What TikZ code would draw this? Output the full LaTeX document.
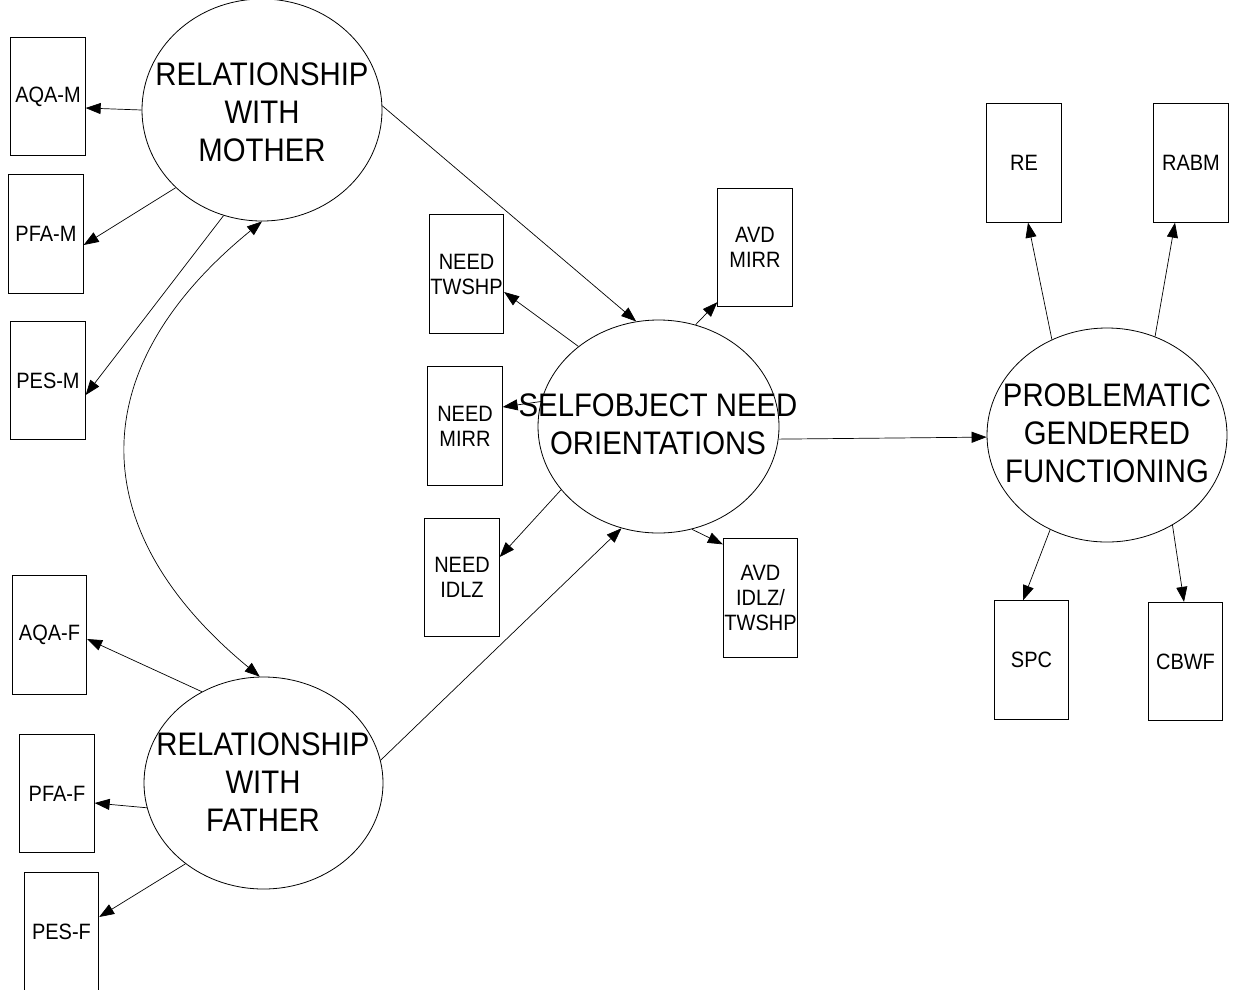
\documentclass[tikz,border=0pt]{standalone}
\usepackage{fontspec}
\setmainfont{Liberation Sans}
\newfontfamily\narrowsans[FakeStretch=0.9]{Liberation Sans}
\usetikzlibrary{shapes.geometric,arrows.meta}
\begin{document}
\begin{tikzpicture}[x=1pt,y=-1pt,
 latent/.style={ellipse,draw,line width=0.8pt,inner sep=0pt},
 ltext/.style={align=center,font=\narrowsans\fontsize{32.6}{38}\selectfont,inner sep=0pt},
 obs/.style={rectangle,draw,line width=0.8pt,minimum width=74.5pt,minimum height=118.5pt,inner sep=0pt,align=center,font=\narrowsans\fontsize{22.2}{25}\selectfont},
 arr/.style={-{Triangle[length=15pt,width=11pt]},line width=0.7pt},
 darr/.style={{Triangle[length=15pt,width=11pt]}-{Triangle[length=15pt,width=11pt]},line width=0.7pt},
]
\path[use as bounding box] (0,0) rectangle (1236,989);

% latent variables
\node[latent,minimum width=240pt,minimum height=222pt] (mom) at (262,110) {};
\node[ltext] (momt) at (262,112) {RELATIONSHIP\\WITH\\MOTHER};
\node[latent,minimum width=239pt,minimum height=212pt] (fat) at (263.5,783) {};
\node[ltext] (fatt) at (263,782) {RELATIONSHIP\\WITH\\FATHER};
\node[latent,minimum width=241pt,minimum height=213pt] (so) at (658.5,426.5) {};
\node[ltext] (sot) at (658,424) {SELFOBJECT NEED\\ORIENTATIONS};
\node[latent,minimum width=240pt,minimum height=214pt] (pgf) at (1107,435) {};
\node[ltext] (pgft) at (1107,433) {PROBLEMATIC\\GENDERED\\FUNCTIONING};

% observed variables
\node[obs] (aqam) at (48,96.5) {AQA-M};
\node[obs] (pfam) at (46,234) {PFA-M};
\node[obs] (pesm) at (48,380.5) {PES-M};
\node[obs] (aqaf) at (49.5,635) {AQA-F};
\node[obs] (pfaf) at (57,793.5) {PFA-F};
\node[obs] (pesf) at (61.5,932) {PES-F};
\node[obs] (ntw) at (466.5,274) {NEED\\TWSHP};
\node[obs] (nmi) at (465,426) {NEED\\MIRR};
\node[obs] (nid) at (462,577.5) {NEED\\IDLZ};
\node[obs] (avm) at (755,247.5) {AVD\\MIRR};
\node[obs] (avi) at (760.5,598) {AVD\\IDLZ/\\TWSHP};
\node[obs] (re) at (1024,163) {RE};
\node[obs] (rabm) at (1191,163) {RABM};
\node[obs] (spc) at (1031.5,660) {SPC};
\node[obs] (cbwf) at (1185.5,661.5) {CBWF};

% mother
\draw[arr] (mom.180) -- ([yshift=-11.5pt]aqam.east);
\draw[arr] (mom.222.6) -- ([yshift=-11pt]pfam.east);
\draw[arr] (mom.250.4) -- ([yshift=-14.5pt]pesm.east);
\draw[arr] (mom.2.4) -- (so.102);
% father
\draw[arr] (fat.124.9) -- ([yshift=-4pt]aqaf.east);
\draw[arr] (fat.192.1) -- ([yshift=-9.5pt]pfaf.east);
\draw[arr] (fat.226.6) -- ([yshift=15pt]pesf.east);
\draw[arr] (fat.11) -- (so.250);
% covariance
\draw[darr] (mom.270) .. controls (82,368) and (82,530) .. (fat.92);
% selfobject
\draw[arr] (so.135) -- ([yshift=-18pt]ntw.east);
\draw[arr] (so.168) -- ([yshift=19pt]nmi.east);
\draw[arr] (so.213.8) -- ([yshift=20.5pt]nid.east);
\draw[arr] (so.70.4) -- ([yshift=5pt]avm.south west);
\draw[arr] (so.288.8) -- ([yshift=-6pt]avi.north west);
\draw[arr] (so.354.5) -- (pgf.181.4);
% problematic
\draw[arr] (pgf.120.5) -- ([xshift=4pt]re.south);
\draw[arr] (pgf.64.6) -- ([xshift=-16pt]rabm.south);
\draw[arr] (pgf.239.6) -- ([xshift=-8.5pt]spc.north);
\draw[arr] (pgf.306.3) -- ([xshift=-1.5pt]cbwf.north);
\end{tikzpicture}
\end{document}
